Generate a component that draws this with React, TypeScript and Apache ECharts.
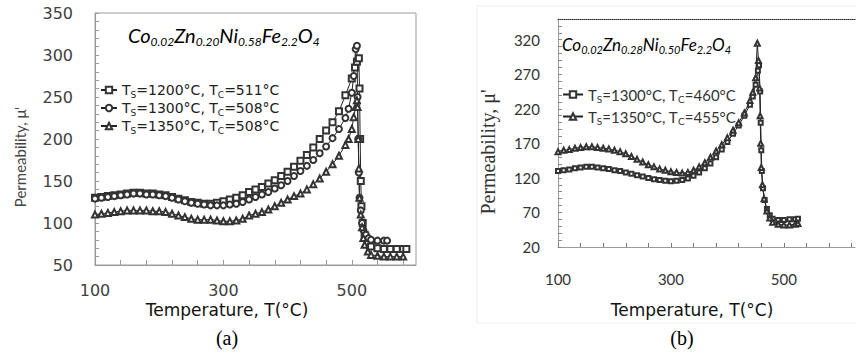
import React, { useEffect, useRef } from "react";
import * as echarts from "echarts";

// ---------- Panel (a): Co0.02Zn0.20Ni0.58Fe2.2O4 ----------
const aTemp1200 = [100,110,120,130,140,150,160,170,180,190,200,210,220,230,240,250,260,270,280,290,300,310,320,330,340,350,360,370,380,390,400,410,420,430,440,450,460,470,480,490,500,505,508,511,512,513,514,515,517,520,525,530,540,550,560,570,580,585];
const aPerm1200 = [130,131,132,133,134,135,136,136,135,135,134,133,131,129,127,125,124,123,123,124,126,128,130,133,137,140,143,147,151,156,161,167,174,181,190,200,210,220,233,252,272,285,292,296,260,200,150,120,100,86,76,72,70,69,69,69,69,69];

const aTemp1300 = [100,110,120,130,140,150,160,170,180,190,200,210,220,230,240,250,260,270,280,290,300,310,320,330,340,350,360,370,380,390,400,410,420,430,440,450,460,470,480,490,495,500,503,506,508,509,510,511,512,514,516,518,522,526,530,540,550,555];
const aPerm1300 = [129,130,131,132,133,134,135,135,134,134,133,132,130,128,126,124,123,122,121,121,121,122,123,125,128,131,134,137,141,145,150,156,162,168,175,183,191,201,212,225,236,255,275,307,311,250,200,160,130,115,100,92,86,82,80,79,79,79];

const aTemp1350 = [100,110,120,130,140,150,160,170,180,190,200,210,220,230,240,250,260,270,280,290,300,310,320,330,340,350,360,370,380,390,400,410,420,430,440,450,460,470,480,490,495,500,503,506,508,509,510,511,512,514,516,518,520,525,530,540,550,560,570,580];
const aPerm1350 = [110,111,112,113,114,115,115,115,115,114,114,113,111,109,107,105,104,104,104,103,102,102,103,105,109,111,113,116,120,124,128,132,135,140,146,153,161,170,180,193,200,212,226,238,246,238,200,165,130,110,95,82,74,66,62,61,60,60,60,60];

const aSinter = ["1200", "1300", "1350"];
const aCurie = ["511", "508", "508"];
const aXTicks = [100,140,180,220,260,300,340,380,420,460,500,540,580];
const aXLabels = [100, 300, 500];

// ---------- Panel (b): Co0.02Zn0.28Ni0.50Fe2.2O4 ----------
const bTemp1300 = [100,110,120,130,140,150,160,170,180,190,200,210,220,230,240,250,260,270,280,290,300,310,320,330,340,350,360,370,380,390,400,410,420,430,440,445,450,454,456,458,459,460,461,463,466,470,475,480,490,500,510,520,525];
const bPerm1300 = [130,131,132,134,135,136,136,135,134,133,131,130,128,126,124,122,120,118,117,116,115,116,117,119,123,128,134,141,150,161,172,184,196,210,226,238,255,275,283,245,200,160,130,105,88,75,66,61,59,59,60,60,61];

const bTemp1350 = [100,110,120,130,140,150,160,170,180,190,200,210,220,230,240,250,260,270,280,290,300,310,320,330,340,350,360,370,380,390,400,410,420,430,440,445,450,453,455,457,458,459,460,462,465,470,475,480,490,500,510,520,525];
const bPerm1350 = [158,160,161,163,164,165,165,164,163,162,160,158,155,151,147,143,139,136,133,131,129,128,127,128,131,136,142,150,159,168,178,189,200,214,232,244,265,315,290,250,210,170,135,110,90,72,62,56,53,52,52,53,54];

const bSinter = ["1300", "1350"];
const bCurie = ["460", "455"];
const bXTicks = [100,140,180,220,260,300,340,380,420,460,500,540,580,620];
const bXLabels = [100, 300, 500];
const bYLabels = [20, 70, 120, 170, 220, 270, 320];
const bYTicks = [20,30,40,50,60,70,80,90,100,110,120,130,140,150,160,170,180,190,200,210,220,230,240,250,260,270,280,290,300,310,320,330,340];

const pairs = (xs: number[], ys: number[]) => xs.map((x, i) => [x, ys[i]]);
const legName = (s: string, c: string) => `Ts=${s}°C, Tc=${c}°C`;
const legRich = (s: string, c: string) => `{n|T}{s|S}{n|=${s}°C, T}{s|C}{n|=${c}°C}`;

export default function App() {
  const ref = useRef<HTMLDivElement>(null);
  useEffect(() => {
    if (!ref.current) return;
    const chart = echarts.init(ref.current, null, { renderer: "svg" });

    const richMap: Record<string, string> = {};
    aSinter.forEach((s, i) => (richMap[legName(s, aCurie[i])] = legRich(s, aCurie[i])));
    bSinter.forEach((s, i) => (richMap[legName(s, bCurie[i])] = legRich(s, bCurie[i])));

    const lineS = (name: string, data: number[][], symbol: string, size: number, xi: number, yi: number) => ({
      type: "line",
      name,
      data,
      xAxisIndex: xi,
      yAxisIndex: yi,
      symbol,
      symbolSize: size,
      showSymbol: true,
      lineStyle: { color: "#222", width: 1 },
      itemStyle: { color: "#333", borderWidth: 1 },
      emphasis: { disabled: true },
    });

    const gray = "#9a9a9a";
    const formulaRich = (m: number, s: number) => ({
      m: { fontFamily: "Lato", fontStyle: "italic", fontSize: m, color: "#333", lineHeight: m + 4, verticalAlign: "bottom" },
      s: { fontFamily: "Lato", fontStyle: "italic", fontSize: s, color: "#333", lineHeight: s + 2, verticalAlign: "bottom", padding: [0, 0, -2, 0] },
    });

    chart.setOption({
      animation: false,
      backgroundColor: "#fff",
      grid: [
        { left: 95, top: 13, width: 321, height: 252, show: true, borderColor: gray, borderWidth: 1, backgroundColor: "transparent" },
        { left: 558, top: 19, width: 297, height: 228, show: false },
      ],
      xAxis: [
        {
          gridIndex: 0, type: "value", min: 100, max: 600,
          axisLine: { lineStyle: { color: gray } },
          axisTick: { inside: true, length: 5, lineStyle: { color: gray }, customValues: aXTicks },
          axisLabel: { customValues: aXLabels, fontFamily: "DejaVu Sans", fontSize: 16, color: "#404040", margin: 17 },
          splitLine: { show: false },
        },
        {
          gridIndex: 1, type: "value", min: 100, max: 626,
          axisLine: { lineStyle: { color: gray } },
          axisTick: { inside: true, length: 4, lineStyle: { color: "#777" }, customValues: bXTicks },
          axisLabel: { customValues: bXLabels, fontFamily: "Lato", fontSize: 15, color: "#333", margin: 24 },
          splitLine: { show: false },
        },
        {
          gridIndex: 1, type: "value", min: 100, max: 626, position: "top",
          axisLine: { show: true, lineStyle: { color: "#222", type: "dotted", width: 1 } },
          axisTick: { show: false }, axisLabel: { show: false }, splitLine: { show: false },
        },
      ],
      yAxis: [
        {
          gridIndex: 0, type: "value", min: 50, max: 350, interval: 50,
          axisLine: { show: true, lineStyle: { color: gray } },
          axisTick: { inside: true, length: 4, lineStyle: { color: gray } },
          minorTick: { show: true, splitNumber: 5, length: 4, lineStyle: { color: gray } },
          axisLabel: { fontFamily: "DejaVu Sans", fontSize: 16, color: "#404040", margin: 22 },
          splitLine: { show: false },
        },
        {
          gridIndex: 1, type: "value", min: 20, max: 350,
          axisLine: { show: true, lineStyle: { color: gray } },
          axisTick: { inside: true, length: 4, lineStyle: { color: "#888" }, customValues: bYTicks },
          axisLabel: { customValues: bYLabels, fontFamily: "Lato", fontSize: 15, color: "#333", margin: 18 },
          splitLine: { show: false },
        },
      ],
      legend: [
        {
          data: aSinter.map((s, i) => legName(s, aCurie[i])),
          orient: "vertical", left: 100, top: 83, itemGap: 2, itemWidth: 16, itemHeight: 8,
          formatter: (n: string) => richMap[n] || n,
          textStyle: {
            rich: {
              n: { fontFamily: "DejaVu Sans", fontSize: 14, color: "#222", lineHeight: 18 },
              s: { fontFamily: "DejaVu Sans", fontSize: 9, color: "#222", lineHeight: 11, verticalAlign: "bottom" },
            },
          },
          padding: 0,
        },
        {
          data: bSinter.map((s, i) => legName(s, bCurie[i])),
          orient: "vertical", left: 562, top: 87, itemGap: 5, itemWidth: 20, itemHeight: 8,
          formatter: (n: string) => richMap[n] || n,
          textStyle: {
            rich: {
              n: { fontFamily: "Lato", fontSize: 15, color: "#333", lineHeight: 19 },
              s: { fontFamily: "Lato", fontSize: 10, color: "#333", lineHeight: 12, verticalAlign: "bottom" },
            },
          },
          padding: 0,
        },
      ],
      series: [
        lineS(legName(aSinter[0], aCurie[0]), pairs(aTemp1200, aPerm1200), "emptyRect", 6, 0, 0),
        lineS(legName(aSinter[1], aCurie[1]), pairs(aTemp1300, aPerm1300), "emptyCircle", 6, 0, 0),
        lineS(legName(aSinter[2], aCurie[2]), pairs(aTemp1350, aPerm1350), "emptyTriangle", 6, 0, 0),
        lineS(legName(bSinter[0], bCurie[0]), pairs(bTemp1300, bPerm1300), "emptyRect", 4, 1, 1),
        lineS(legName(bSinter[1], bCurie[1]), pairs(bTemp1350, bPerm1350), "emptyTriangle", 5, 1, 1),
      ],
      graphic: [
        { type: "rect", silent: true, z: -10, shape: { x: 477, y: 6, width: 400, height: 317 }, style: { fill: "none", stroke: "#eeeeee", lineWidth: 1 } },
        {
          type: "text", x: 128, y: 33,
          style: { text: "{m|Co}{s|0.02}{m|Zn}{s|0.20}{m|Ni}{s|0.58}{m|Fe}{s|2.2}{m|O}{s|4}", rich: formulaRich(20, 12), verticalAlign: "middle", align: "left" },
        },
        {
          type: "text", x: 562, y: 42,
          style: { text: "{m|Co}{s|0.02}{m|Zn}{s|0.28}{m|Ni}{s|0.50}{m|Fe}{s|2.2}{m|O}{s|4}", rich: formulaRich(17, 11), verticalAlign: "middle", align: "left" },
        },
        { type: "text", x: 20, y: 157, rotation: Math.PI / 2, style: { text: "Permeability, μ'", fontFamily: "Lato", fontSize: 15, fill: "#444", align: "center", verticalAlign: "middle" } },
        { type: "text", x: 488, y: 152, rotation: Math.PI / 2, style: { text: "Permeability, μ'", fontFamily: "Liberation Serif", fontSize: 20, fill: "#333", align: "center", verticalAlign: "middle" } },
        { type: "text", x: 227, y: 310, style: { text: "Temperature, T(°C)", fontFamily: "DejaVu Sans", fontSize: 17, fill: "#111", align: "center", verticalAlign: "middle" } },
        { type: "text", x: 692, y: 310, style: { text: "Temperature, T(°C)", fontFamily: "DejaVu Sans", fontSize: 17, fill: "#111", align: "center", verticalAlign: "middle" } },
        { type: "text", x: 227, y: 338, style: { text: "(a)", fontFamily: "Liberation Serif", fontSize: 20, fill: "#000", align: "center", verticalAlign: "middle" } },
        { type: "text", x: 682, y: 338, style: { text: "(b)", fontFamily: "Liberation Serif", fontSize: 20, fill: "#000", align: "center", verticalAlign: "middle" } },
      ],
    });
    return () => chart.dispose();
  }, []);
  return <div ref={ref} style={{ position: "fixed", left: 0, top: 0, width: 856, height: 353 }} />;
}
